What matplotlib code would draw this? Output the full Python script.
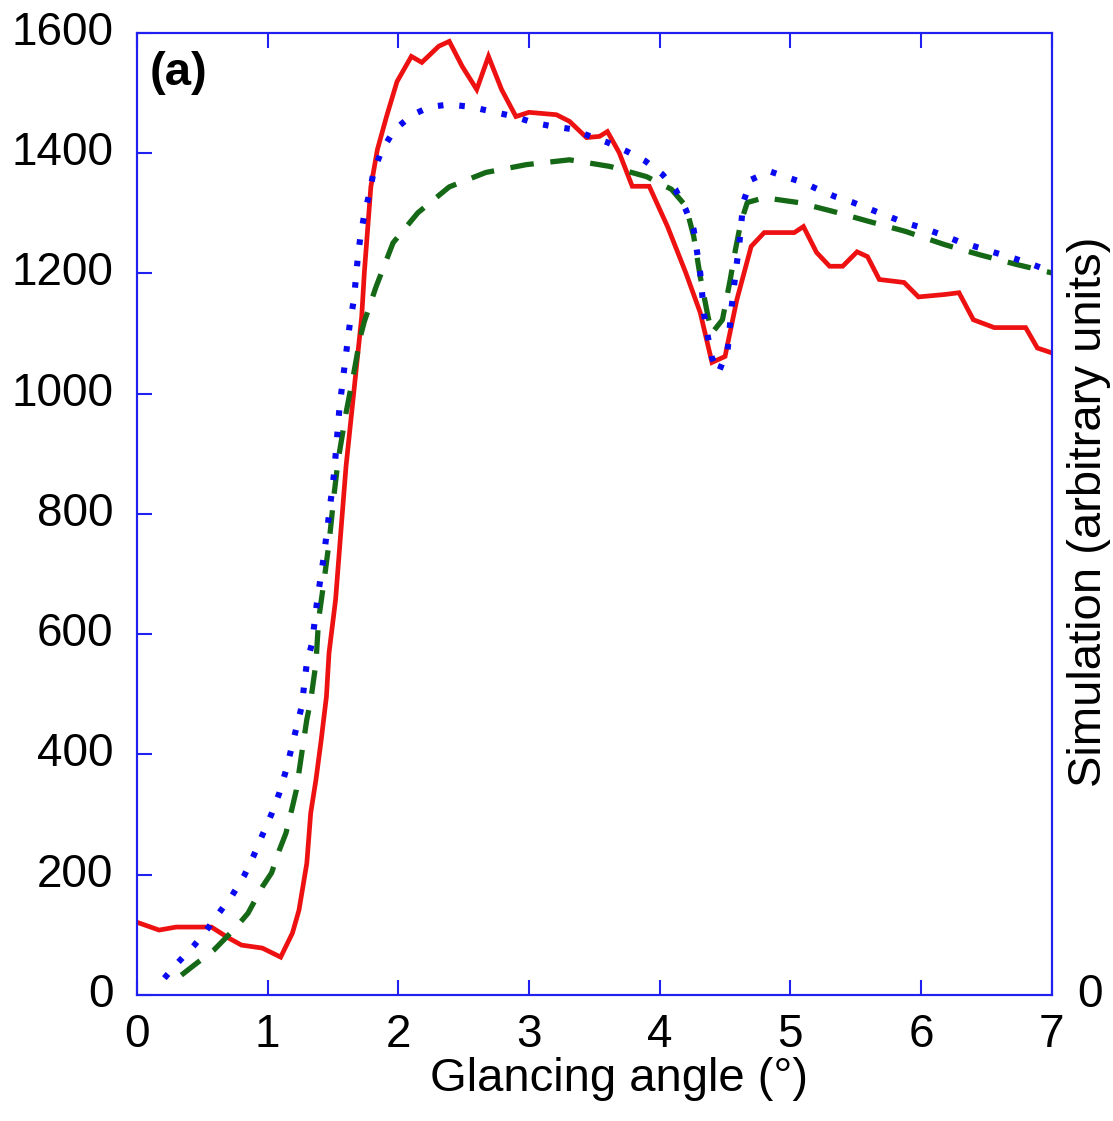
import matplotlib

matplotlib.use("Agg")
import matplotlib.pyplot as plt
import matplotlib.transforms as mtransforms

plt.rcParams["font.family"] = ["Liberation Sans", "DejaVu Sans"]
plt.rcParams["lines.scale_dashes"] = False

# experiment (solid red)
red_x = [0.0, 0.17, 0.3, 0.57, 0.7, 0.8, 0.96, 1.1, 1.19, 1.24, 1.3, 1.33, 1.37, 1.41,
         1.45, 1.47, 1.52, 1.56, 1.6, 1.64, 1.68, 1.72, 1.74, 1.79, 1.84, 1.91, 1.99, 2.1,
         2.18, 2.31, 2.39, 2.49, 2.6, 2.69, 2.79, 2.9, 3.0, 3.21, 3.31, 3.44, 3.54, 3.6,
         3.69, 3.79, 3.92, 4.06, 4.2, 4.31, 4.4, 4.5, 4.59, 4.7, 4.8, 5.03, 5.1, 5.2, 5.3,
         5.4, 5.51, 5.59, 5.68, 5.87, 5.98, 6.18, 6.29, 6.4, 6.56, 6.8, 6.89, 7.0]
red_y = [121, 108, 113, 113, 95, 83, 78, 63, 103, 141, 219, 303, 358, 424,
         496, 569, 657, 769, 879, 962, 1045, 1128, 1201, 1344, 1406, 1461, 1519, 1561,
         1551, 1578, 1586, 1544, 1506, 1561, 1506, 1461, 1468, 1464, 1453, 1426, 1428, 1436,
         1401, 1345, 1345, 1278, 1201, 1135, 1052, 1062, 1156, 1245, 1268, 1268, 1278, 1235, 1212,
         1212, 1236, 1228, 1190, 1185, 1161, 1165, 1168, 1123, 1110, 1110, 1076, 1068]

# simulation 1 (blue dotted)
blue_x = [0.21, 0.31, 0.44, 0.54, 0.63, 0.73, 0.82, 0.89, 0.96, 1.03, 1.09, 1.14, 1.18,
          1.22, 1.26, 1.3, 1.34, 1.38, 1.43, 1.47, 1.51, 1.55, 1.59, 1.63, 1.66, 1.69,
          1.71, 1.74, 1.78, 1.81, 1.87, 1.97, 2.11, 2.24, 2.39, 2.56, 2.72, 2.89, 3.03,
          3.17, 3.33, 3.47, 3.6, 3.75, 3.89, 4.02, 4.12, 4.2, 4.26, 4.31, 4.34, 4.37,
          4.4, 4.45, 4.52, 4.55, 4.58, 4.61, 4.64, 4.7, 4.84, 4.96, 5.1, 5.22, 5.34,
          5.48, 5.62, 5.75, 5.88, 6.01, 6.15, 6.29, 6.41, 6.56, 6.7, 6.85, 7.0]
blue_y = [28, 53, 83, 110, 137, 166, 198, 230, 266, 301, 336, 373, 408,
          444, 479, 552, 585, 657, 729, 799, 870, 977, 1048, 1118, 1156, 1226,
          1261, 1298, 1334, 1368, 1403, 1439, 1464, 1477, 1481, 1477, 1469, 1461, 1451,
          1445, 1440, 1428, 1418, 1403, 1387, 1365, 1340, 1306, 1273, 1201, 1131, 1093,
          1060, 1035, 1073, 1143, 1200, 1251, 1319, 1356, 1370, 1361, 1351, 1339, 1328,
          1318, 1306, 1295, 1284, 1276, 1265, 1253, 1245, 1235, 1226, 1215, 1203]

# simulation 2 (green dashed)
green_x = [0.34, 0.44, 0.59, 0.68, 0.76, 0.85, 0.96, 1.03, 1.09, 1.14, 1.19, 1.22, 1.26,
           1.3, 1.33, 1.37, 1.39, 1.43, 1.47, 1.51, 1.54, 1.6, 1.66, 1.71, 1.74, 1.83,
           1.96, 2.15, 2.39, 2.67, 2.98, 3.31, 3.62, 3.9, 4.09, 4.2, 4.26, 4.31, 4.37,
           4.4, 4.48, 4.54, 4.58, 4.62, 4.67, 4.8, 5.06, 5.33, 5.61, 5.88, 6.18, 6.45,
           6.73, 7.0]
green_y = [33, 50, 75, 95, 113, 136, 180, 203, 241, 269, 313, 341, 400,
           458, 490, 552, 624, 686, 752, 835, 890, 968, 1035, 1095, 1120, 1178,
           1251, 1301, 1344, 1368, 1381, 1389, 1378, 1361, 1340, 1312, 1262, 1195, 1128,
           1101, 1123, 1190, 1240, 1284, 1318, 1326, 1318, 1303, 1286, 1270, 1248, 1231,
           1215, 1201]

x_ticks = list(range(0, 8))
y_ticks = list(range(0, 1601, 200))

AXIS_BLUE = "#2020f0"
FS = 33

fig = plt.figure(figsize=(11.13, 11.21), dpi=100)
ax = fig.add_axes([0.123, 0.1124, 0.822, 0.8582])

ax.plot(red_x, red_y, color="#ee1111", lw=3.4, solid_joinstyle="miter")
ax.plot(green_x, green_y, color="#156815", lw=3.8, dashes=(17, 12))
ax.plot(blue_x, blue_y, color="#0a0af0", lw=4.4, dashes=(4, 11.5))

ax.set_xlim(0, 7)
ax.set_ylim(0, 1600)
ax.set_xticks(x_ticks)
ax.set_yticks(y_ticks)
ax.tick_params(direction="in", length=11, width=1.5, color=AXIS_BLUE, labelsize=FS)
ax.tick_params(axis="x", top=True, pad=13)
ax.tick_params(axis="y", pad=17)
for sp in ax.spines.values():
    sp.set_color(AXIS_BLUE)
    sp.set_linewidth(1.5)

# the y numbers sit a few pixels above their ticks in the original
lift = mtransforms.ScaledTranslation(0, 5 / 100, fig.dpi_scale_trans)
for lbl in ax.get_yticklabels():
    lbl.set_transform(lbl.get_transform() + lift)

ax.set_xlabel("Glancing angle (°)", fontsize=34)
ax.xaxis.set_label_coords((619 - 137) / 915, -0.064)
ax.text(0.014, 0.958, "(a)", transform=ax.transAxes, fontsize=34,
        fontweight="bold", ha="left", va="center")

# right-hand axis: simulation scale, only the zero is labelled
ax2 = ax.twinx()
ax2.set_ylim(0, 1)
ax2.set_yticks([0])
ax2.tick_params(axis="y", length=0, labelsize=FS, pad=18)
for lbl in ax2.get_yticklabels():
    lbl.set_transform(lbl.get_transform() + lift)
for sp in ax2.spines.values():
    sp.set_color(AXIS_BLUE)
    sp.set_linewidth(1.5)
fig.text(1089 / 1113, 1 - 512 / 1121, "Simulation (arbitrary units)", fontsize=34,
         rotation=90, ha="center", va="center")

fig.savefig("out.png", dpi=100)
